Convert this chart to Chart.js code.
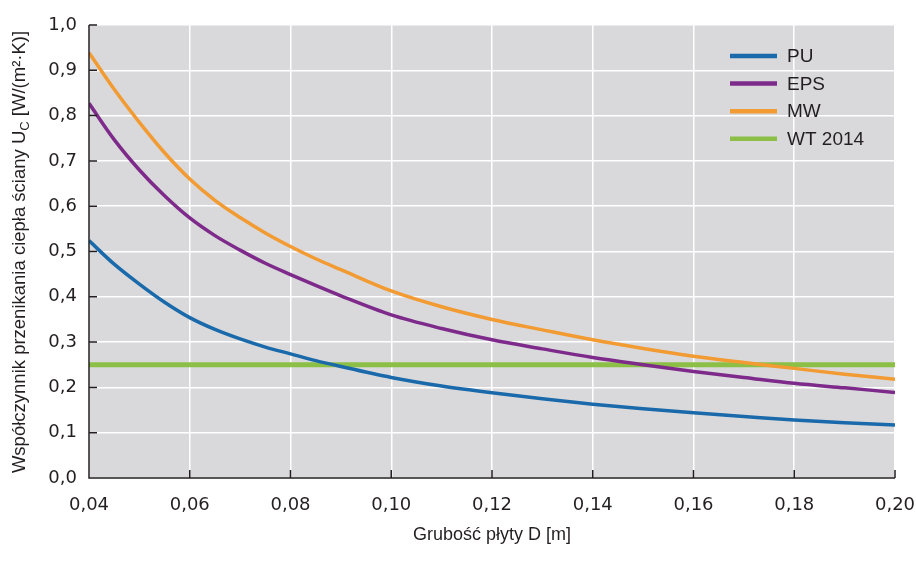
<!DOCTYPE html>
<html><head><meta charset="utf-8">
<script src="https://cdn.jsdelivr.net/npm/chart.js@4/dist/chart.umd.min.js"></script>
<style>html,body{margin:0;padding:0;background:#fff}#wrap{width:916px;height:562px}</style>
</head><body><div id="wrap"><canvas id="c" width="916" height="562"></canvas></div>
<script>
const thickness = [0.04,0.045,0.05,0.055,0.06,0.065,0.07,0.075,0.08,0.085,0.09,0.10,0.11,0.12,0.13,0.14,0.15,0.16,0.17,0.18,0.19,0.20];
const puValues  = [0.524,0.472,0.428,0.388,0.354,0.328,0.307,0.289,0.274,0.259,0.246,0.222,0.203,0.188,0.175,0.163,0.153,0.144,0.136,0.128,0.122,0.117];
const epsValues = [0.827,0.747,0.680,0.623,0.574,0.535,0.503,0.474,0.449,0.425,0.402,0.360,0.330,0.305,0.285,0.266,0.250,0.235,0.222,0.209,0.199,0.189];
const mwValues  = [0.939,0.858,0.785,0.718,0.660,0.613,0.575,0.541,0.511,0.484,0.460,0.413,0.378,0.350,0.327,0.305,0.286,0.269,0.255,0.242,0.229,0.218];
const wtX = [0.04,0.20];
const wtValues = [0.25,0.25];
const seriesLabels = ['PU','EPS','MW','WT 2014'];
const seriesColors = ['#1a6aab','#7d2a8a','#f29b32','#8bbf45'];
const xTitle = 'Grubość płyty D [m]';
const yTitleParts = ['Współczynnik przenikania ciepła ściany U','C',' [W/(m²·K)]'];

const pts = (xs, ys) => xs.map((x,i)=>({x:x,y:ys[i]}));

const bgPlugin = {
  id:'bg',
  beforeDraw(chart){
    const {ctx, chartArea:a} = chart;
    ctx.save(); ctx.fillStyle='#d9d9dc';
    ctx.fillRect(a.left,a.top,a.right-a.left,a.bottom-a.top);
    ctx.restore();
  },
  afterDatasetsDraw(chart){
    const {ctx, chartArea:a, scales} = chart;
    ctx.save();
    ctx.strokeStyle='#231f20'; ctx.lineWidth=1.5;
    ctx.beginPath();
    ctx.moveTo(a.left,a.top); ctx.lineTo(a.left,a.bottom); ctx.lineTo(a.right,a.bottom);
    scales.y.ticks.forEach(t=>{const y=scales.y.getPixelForValue(t.value); ctx.moveTo(a.left,y); ctx.lineTo(a.left+8,y);});
    scales.x.ticks.forEach(t=>{const x=scales.x.getPixelForValue(t.value); ctx.moveTo(x,a.bottom); ctx.lineTo(x,a.bottom-8);});
    ctx.stroke();
    // legend
    ctx.font='19px "Liberation Sans", Arial, sans-serif';
    ctx.textBaseline='middle'; ctx.fillStyle='#231f20';
    chart.data.datasets.forEach((d,i)=>{
      const y=56+i*27.6;
      ctx.strokeStyle=d.borderColor; ctx.lineWidth=4.5;
      ctx.beginPath(); ctx.moveTo(730,y); ctx.lineTo(777,y); ctx.stroke();
      ctx.fillText(d.label,787,y+1);
    });
    // y title with subscript
    const big='18.5px "Liberation Sans", Arial, sans-serif', small='13px "Liberation Sans", Arial, sans-serif';
    ctx.font=big; const w0=ctx.measureText(yTitleParts[0]).width, w2=ctx.measureText(yTitleParts[2]).width;
    ctx.font=small; const w1=ctx.measureText(yTitleParts[1]).width;
    const total=w0+w1+w2;
    ctx.translate(25,252); ctx.rotate(-Math.PI/2);
    ctx.textBaseline='alphabetic'; ctx.textAlign='left';
    let x=-total/2;
    ctx.font=big; ctx.fillText(yTitleParts[0],x,0); x+=w0;
    ctx.font=small; ctx.fillText(yTitleParts[1],x,4); x+=w1;
    ctx.font=big; ctx.fillText(yTitleParts[2],x,0);
    ctx.restore();
  }
};

new Chart(document.getElementById('c'),{
  type:'line',
  data:{datasets:[
    {label:seriesLabels[0],data:pts(thickness,puValues),borderColor:seriesColors[0],borderWidth:3.5,pointRadius:0,cubicInterpolationMode:'monotone'},
    {label:seriesLabels[1],data:pts(thickness,epsValues),borderColor:seriesColors[1],borderWidth:3.5,pointRadius:0,cubicInterpolationMode:'monotone'},
    {label:seriesLabels[2],data:pts(thickness,mwValues),borderColor:seriesColors[2],borderWidth:3.5,pointRadius:0,cubicInterpolationMode:'monotone'},
    {label:seriesLabels[3],data:pts(wtX,wtValues),borderColor:seriesColors[3],borderWidth:5,pointRadius:0}
  ]},
  options:{
    responsive:false,animation:false,
    layout:{padding:{left:0,top:25,right:21,bottom:0}},
    plugins:{legend:{display:false},tooltip:{enabled:false}},
    scales:{
      x:{type:'linear',min:0.04,max:0.20,
        afterFit(s){s.height=84;s.paddingLeft=0;s.paddingRight=0;},
        grid:{color:'#ffffff',lineWidth:1.5,drawTicks:false},
        border:{display:false},
        ticks:{stepSize:0.02,padding:17,color:'#231f20',font:{family:'"DejaVu Sans"',size:18},
          callback:v=>Number(v).toFixed(2).replace('.',',')},
        title:{display:true,text:xTitle,color:'#231f20',font:{family:'"Liberation Sans", Arial',size:18},padding:{top:0,bottom:16}}
      },
      y:{min:0,max:1,
        afterFit(s){s.width=89;s.paddingTop=0;s.paddingBottom=0;},
        grid:{color:'#ffffff',lineWidth:1.5,drawTicks:false},
        border:{display:false},
        ticks:{stepSize:0.1,padding:12,color:'#231f20',font:{family:'"DejaVu Sans"',size:18},
          callback:v=>Number(v).toFixed(1).replace('.',',')}
      }
    }
  },
  plugins:[bgPlugin]
});
</script></body></html>
